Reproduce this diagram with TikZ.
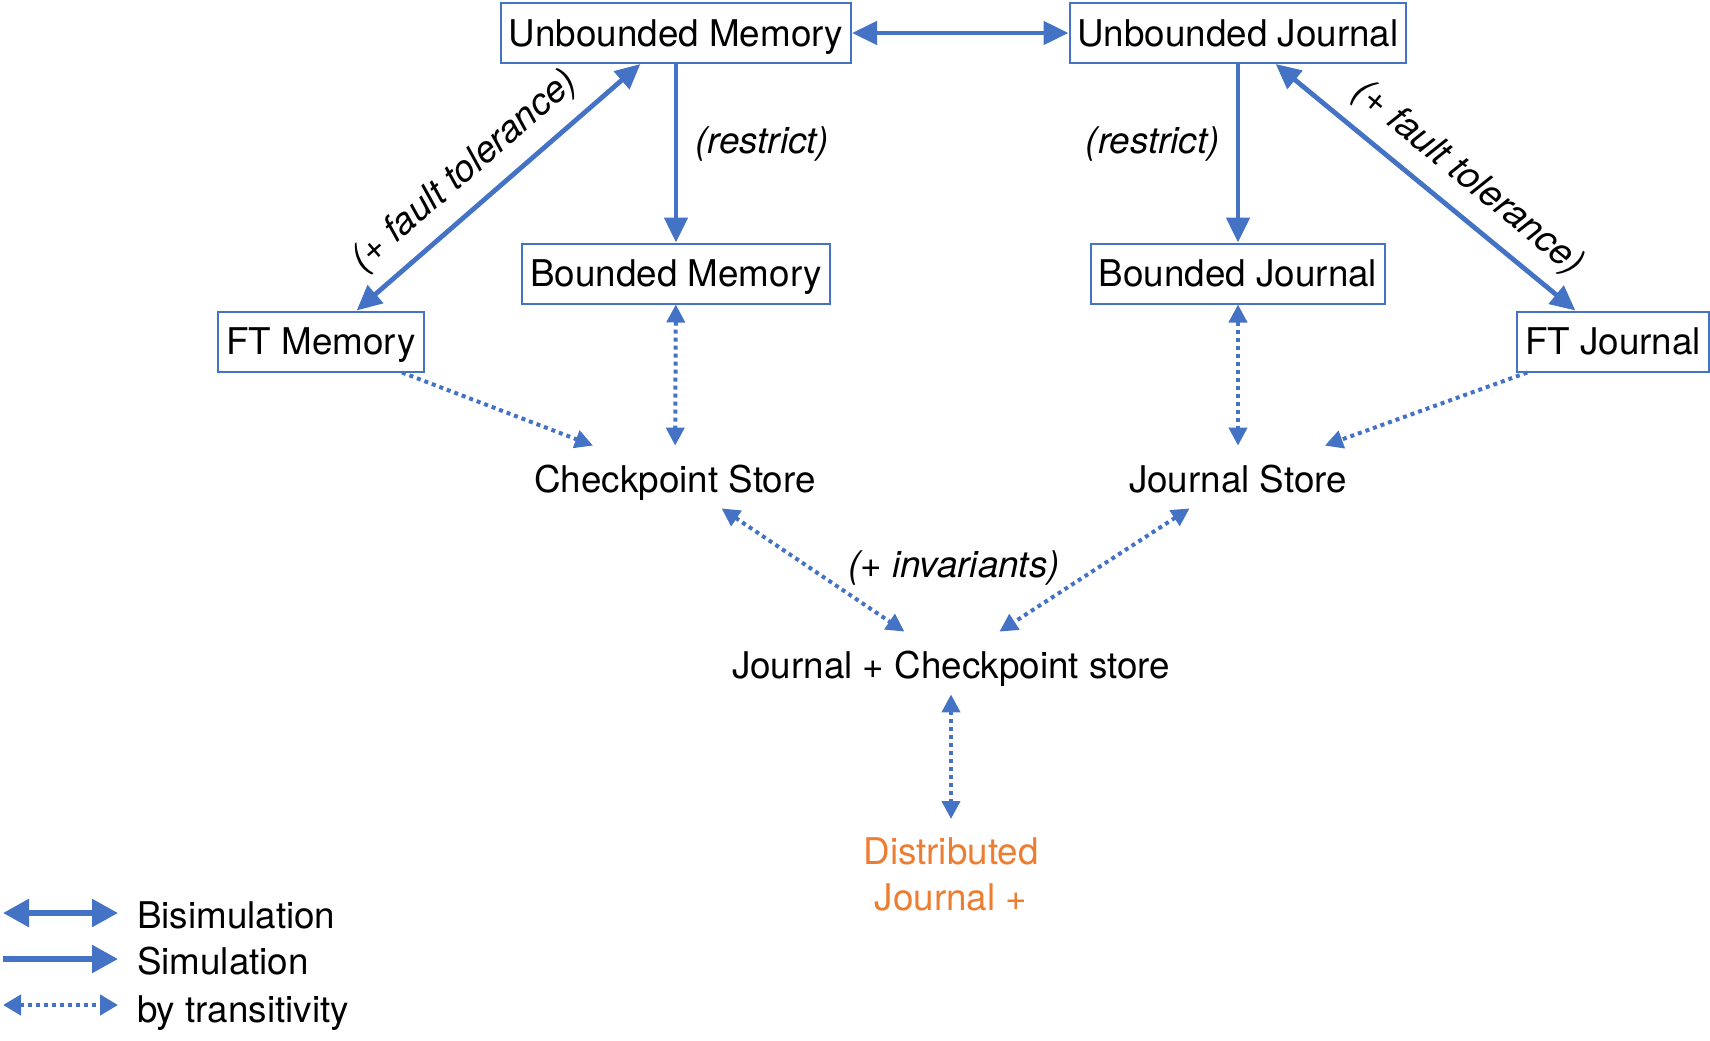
\documentclass[tikz,border=0pt]{standalone}
\usepackage{fontspec}
\setmainfont{TeX Gyre Heros}
\usetikzlibrary{arrows.meta}
\definecolor{kblue}{HTML}{4472C4}
\definecolor{korange}{HTML}{ED7D31}

\tikzset{
  every node/.style={font=\fontsize{18.4}{23}\selectfont},
  box/.style={draw=kblue, line width=1pt, inner xsep=4pt, inner ysep=6.5pt,
    text height=15pt, text depth=2pt},
  store/.style={inner xsep=8pt, inner ysep=6pt, text height=17pt, text depth=2pt},
  lbl/.style={font=\fontsize{18.4}{23}\selectfont\itshape},
  sim/.style={draw=kblue, line width=2.4pt,
    arrows={-Triangle[length=12.5pt,width=11.5pt]}},
  bisim/.style={draw=kblue, line width=2.4pt,
    arrows={Triangle[length=12.5pt,width=11.5pt]-Triangle[length=12.5pt,width=11.5pt]}},
  trans/.style={draw=kblue, line width=2pt, dash pattern=on 2pt off 2pt,
    arrows={Triangle[length=9pt,width=9pt]-Triangle[length=9pt,width=9pt]}},
  transto/.style={draw=kblue, line width=2pt, dash pattern=on 2pt off 2pt,
    arrows={-Triangle[length=9pt,width=9pt]}},
  lgsimline/.style={draw=kblue, line width=2.8pt,
    arrows={-Triangle[length=13pt,width=13.5pt]}},
  lgbisimline/.style={draw=kblue, line width=2.8pt,
    arrows={Triangle[length=13pt,width=13.5pt]-Triangle[length=13pt,width=13.5pt]}},
  lgtransline/.style={draw=kblue, line width=2.2pt, dash pattern=on 2pt off 2pt,
    arrows={Triangle[length=9pt,width=10pt]-Triangle[length=9pt,width=10pt]}}
}

\begin{document}
\begin{tikzpicture}[x=0.5pt,y=-0.5pt]
\useasboundingbox (0,0) rectangle (1710,1040);

\node[box] (umem) at (676,33) {Unbounded Memory};
\node[box] (ujnl) at (1238,33) {Unbounded Journal};
\node[box] (bmem) at (676,273.5) {Bounded Memory};
\node[box] (bjnl) at (1238,273.5) {Bounded Journal};
\node[box] (ftmem) at (321,341.5) {FT Memory};
\node[box] (ftjnl) at (1613,341.5) {FT Journal};

\node[store] (cstore) at (675,477) {Checkpoint Store};
\node[store] (jstore) at (1238,477) {Journal Store};
\node[store] (jcstore) at (951,663) {Journal + Checkpoint store};
\node[inner sep=9pt, align=center, anchor=north, text=korange] (dist) at (951,819)
  {Distributed\\Journal +};

\draw[bisim] (umem) -- (ujnl);
\draw[sim] (umem) -- node[lbl, pos=0.45, right, inner xsep=8.5pt] {(restrict)} (bmem);
\draw[sim] (ujnl) -- node[lbl, pos=0.45, left, inner xsep=8pt] {(restrict)} (bjnl);
\draw[bisim] (ftmem) -- node[lbl, pos=0.46, above, sloped, inner ysep=7pt] {(+ fault tolerance)} (umem);
\draw[bisim] (ujnl) -- node[lbl, pos=0.57, above, sloped, inner ysep=7pt] {(+ fault tolerance)} (ftjnl);

\draw[trans] (bmem) -- (cstore);
\draw[trans] (bjnl) -- (jstore);
\draw[transto] (ftmem) -- (cstore);
\draw[transto] (ftjnl) -- (jstore);
\draw[trans] (cstore) -- (jcstore);
\draw[trans] (jstore) -- (jcstore);
\node[lbl] (inv) at (954,568) {(+ invariants)};
\draw[trans] (jcstore) -- (dist);

% legend
\coordinate (lga1) at (3,913);
\coordinate (lga2) at (118,913);
\coordinate (lgb1) at (3,959);
\coordinate (lgb2) at (118,959);
\coordinate (lgc1) at (3,1005);
\coordinate (lgc2) at (118,1005);
\draw[lgbisimline] (lga1) -- (lga2);
\draw[lgsimline] (lgb1) -- (lgb2);
\draw[lgtransline] (lgc1) -- (lgc2);
\node[anchor=base west] (lgbisim) at (130,928) {Bisimulation};
\node[anchor=base west] (lgsim) at (130,974) {Simulation};
\node[anchor=base west] (lgtrans) at (130,1022) {by transitivity};

\end{tikzpicture}
\end{document}
